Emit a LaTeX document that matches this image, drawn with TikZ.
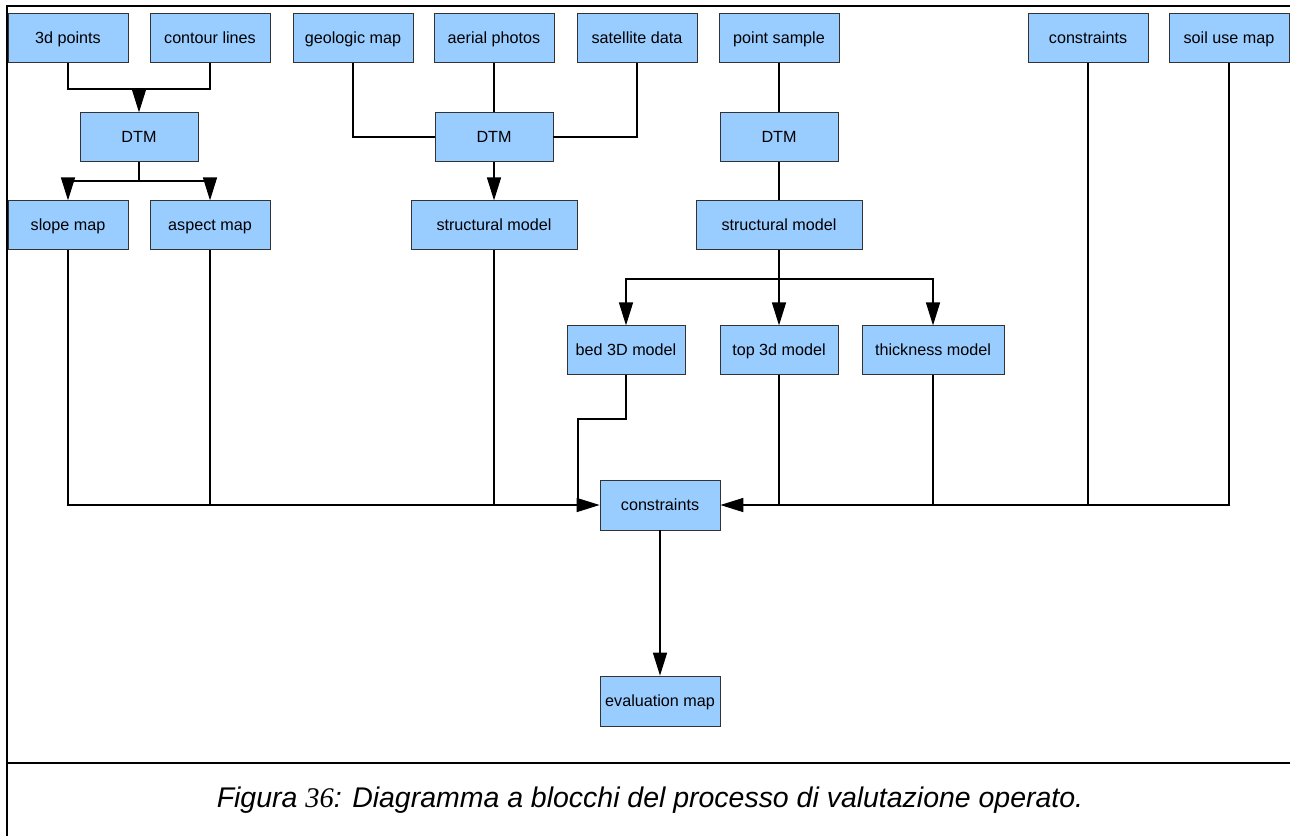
\documentclass[tikz,border=0pt]{standalone}
\usepackage{fontspec}
\setmainfont{Liberation Sans}
\newfontfamily\numfont{Liberation Serif}
\usepackage{tikz}
\usetikzlibrary{arrows.meta, calc}

\begin{document}
\begin{tikzpicture}[x=0.02cm, y=-0.02cm,
  blk/.style={draw=black!80, fill=blockblue, line width=0.5pt, inner sep=0pt,
    minimum width=2.4cm, minimum height=0.97cm, text height=1.6ex, text depth=0.4ex,
    font=\fontsize{9.2}{11}\selectfont},
  blkw/.style={blk, minimum width=3.32cm},
  conn/.style={line width=0.6pt},
  arr/.style={conn, -{Triangle[length=13pt, width=8pt]}}
]
  \definecolor{blockblue}{RGB}{153,204,255}
  \useasboundingbox (0,0) rectangle (1290,836);

  % Rahmen
  \draw[line width=0.7pt] (7,836) -- (7,6) -- (1290,6);
  \draw[line width=0.7pt] (7,763) -- (1290,763);

  % Eingangsdaten
  \node[blk] (pts) at (68,38) {3d points};
  \node[blk] (cont) at (210,38) {contour lines};
  \node[blk] (geo) at (353,38) {geologic map};
  \node[blk] (aer) at (494,38) {aerial photos};
  \node[blk] (sat) at (637,38) {satellite data};
  \node[blk] (smp) at (779,38) {point sample};
  \node[blk] (cstrA) at (1088,38) {constraints};
  \node[blk] (soil) at (1229,38) {soil use map};

  % DTM
  \node[blk, minimum width=2.36cm] (dtmA) at (139,137) {DTM};
  \node[blk, minimum width=2.36cm] (dtmB) at (494,137) {DTM};
  \node[blk, minimum width=2.36cm] (dtmC) at (779,137) {DTM};

  % Modelle
  \node[blk] (slope) at (68,225) {slope map};
  \node[blk] (aspect) at (210,225) {aspect map};
  \node[blkw] (strA) at (494,225) {structural model};
  \node[blkw] (strB) at (779,225) {structural model};
  \node[blk, minimum width=2.36cm] (bed) at (626,350) {bed 3D model};
  \node[blk, minimum width=2.36cm] (top) at (779,350) {top 3d model};
  \node[blk, minimum width=2.84cm] (thick) at (933,350) {thickness model};

  % Auswertung
  \node[blk, minimum height=1.0cm] (cstr) at (660,505) {constraints};
  \node[blk, minimum height=1.0cm] (eval) at (660,701) {evaluation map};

  % Verbindungen DTM
  \coordinate (jA) at (139,89);
  \draw[conn] (pts.south) |- (jA) -| (cont.south);
  \draw[arr] (jA) -- (dtmA.north);
  \coordinate (jB) at (139,181);
  \draw[conn] (dtmA.south) -- (jB);
  \draw[arr] (jB) -| (slope.north);
  \draw[arr] (jB) -| (aspect.north);

  \draw[conn] (geo.south) |- (dtmB.west);
  \draw[conn] (sat.south) |- (dtmB.east);
  \draw[conn] (aer.south) -- (dtmB.north);
  \draw[arr] (dtmB.south) -- (strA.north);

  \draw[conn] (smp.south) -- (dtmC.north);
  \draw[conn] (dtmC.south) -- (strB.north);
  \coordinate (jC) at (779,279);
  \draw[conn] (strB.south) -- (jC);
  \draw[arr] (jC) -| (bed.north);
  \draw[arr] (jC) -- (top.north);
  \draw[arr] (jC) -| (thick.north);

  % Zusammenfuehrung links
  \draw[arr] (slope.south) |- (cstr.west);
  \draw[conn] (aspect.south) -- (aspect.south |- cstr.west);
  \draw[conn] (strA.south) -- (strA.south |- cstr.west);
  \coordinate (kb) at (578,419);
  \draw[conn] (bed.south) |- (kb) -- (kb |- cstr.west);

  % Zusammenfuehrung rechts
  \draw[arr] (soil.south) |- (cstr.east);
  \draw[conn] (cstrA.south) -- (cstrA.south |- cstr.east);
  \draw[conn] (thick.south) -- (thick.south |- cstr.east);
  \draw[conn] (top.south) -- (top.south |- cstr.east);

  \draw[arr] (cstr.south) -- (eval.north);

  % Beschriftung
  \node[font=\fontsize{16.2}{18}\selectfont\itshape] (cap) at (650,800)
    {Figura {\numfont 36}: Diagramma a blocchi del processo di valutazione operato.};
\end{tikzpicture}
\end{document}
